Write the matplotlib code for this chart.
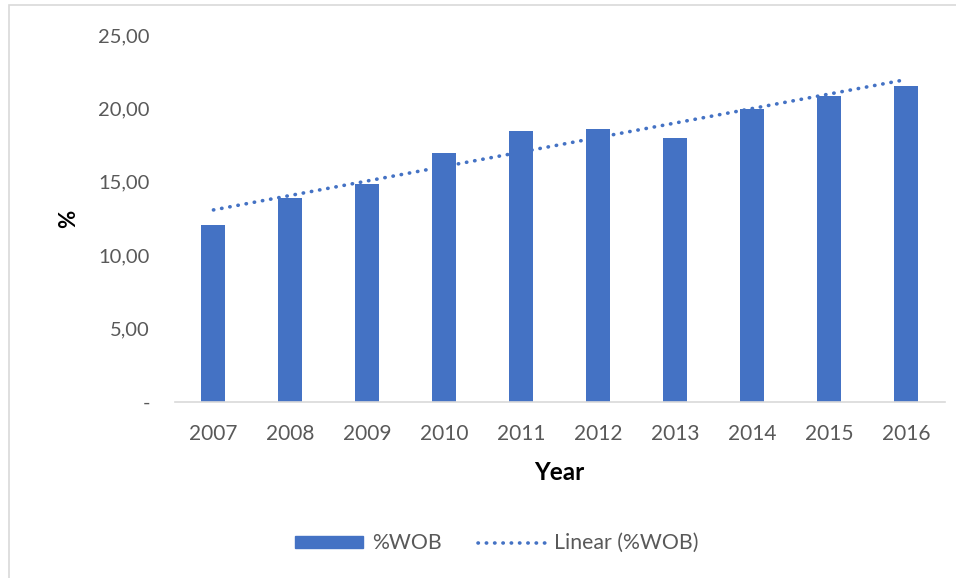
import matplotlib
matplotlib.use("Agg")
import matplotlib.pyplot as plt
import numpy as np
from matplotlib.patches import Rectangle
from matplotlib.lines import Line2D
from matplotlib.patches import Patch

years = ["2007", "2008", "2009", "2010", "2011", "2012", "2013", "2014", "2015", "2016"]
wob = [12.06, 13.92, 14.85, 16.96, 18.48, 18.60, 17.98, 19.96, 20.87, 21.55]
yticks = [0, 5, 10, 15, 20, 25]
ytick_labels = ["-", "5,00", "10,00", "15,00", "20,00", "25,00"]

plt.rcParams['font.family'] = ['Lato', 'DejaVu Sans']
color = "#4472C4"
gray = "#595959"

fig = plt.figure(figsize=(9.56, 5.78), dpi=100)
ax = fig.add_axes([0.183, 0.3045, 0.805, 0.635])

x = np.arange(len(years))
ax.bar(x, wob, width=0.31, color=color, zorder=2)

coef = np.polyfit(x, wob, 1)
trend = np.polyval(coef, x)
ax.plot(x, trend, color=color, lw=2.6, dashes=(0.1, 2.2), dash_capstyle='round', zorder=3)

ax.set_xlim(-0.5, len(years) - 0.5)
ax.set_ylim(0, 25)
ax.set_yticks(yticks)
ax.set_yticklabels(ytick_labels)
ax.set_xticks(x)
ax.set_xticklabels(years)
for s in ["top", "right", "left"]:
    ax.spines[s].set_visible(False)
ax.spines["bottom"].set_color("#D9D9D9")
ax.spines["bottom"].set_linewidth(1.2)
ax.tick_params(axis='x', length=0, labelsize=15, labelcolor=gray, pad=16)
ax.tick_params(axis='y', length=0, labelsize=14.5, labelcolor=gray, pad=18)

ax.set_xlabel("Year", fontsize=17.5, fontweight='bold', color='black', labelpad=12)
ax.set_ylabel("%", fontsize=16, fontweight='bold', color='black', labelpad=14)

handles = [Patch(facecolor=color, edgecolor=color),
           Line2D([0], [0], color=color, lw=2.6, dashes=(0.1, 2.2), dash_capstyle='round')]
fig.legend(handles, ["%WOB", "Linear (%WOB)"], loc='center', bbox_to_anchor=(0.52, 0.06),
           ncol=2, frameon=False, fontsize=15.3, handlelength=3.2, handleheight=0.5,
           columnspacing=1.7, handletextpad=0.4, labelcolor=gray)

fig.add_artist(Rectangle((0.009, -0.01), 1.5, 1.002, transform=fig.transFigure,
                         fill=False, edgecolor="#D9D9D9", lw=1.2))

fig.savefig("out.png", dpi=100, facecolor="white")
